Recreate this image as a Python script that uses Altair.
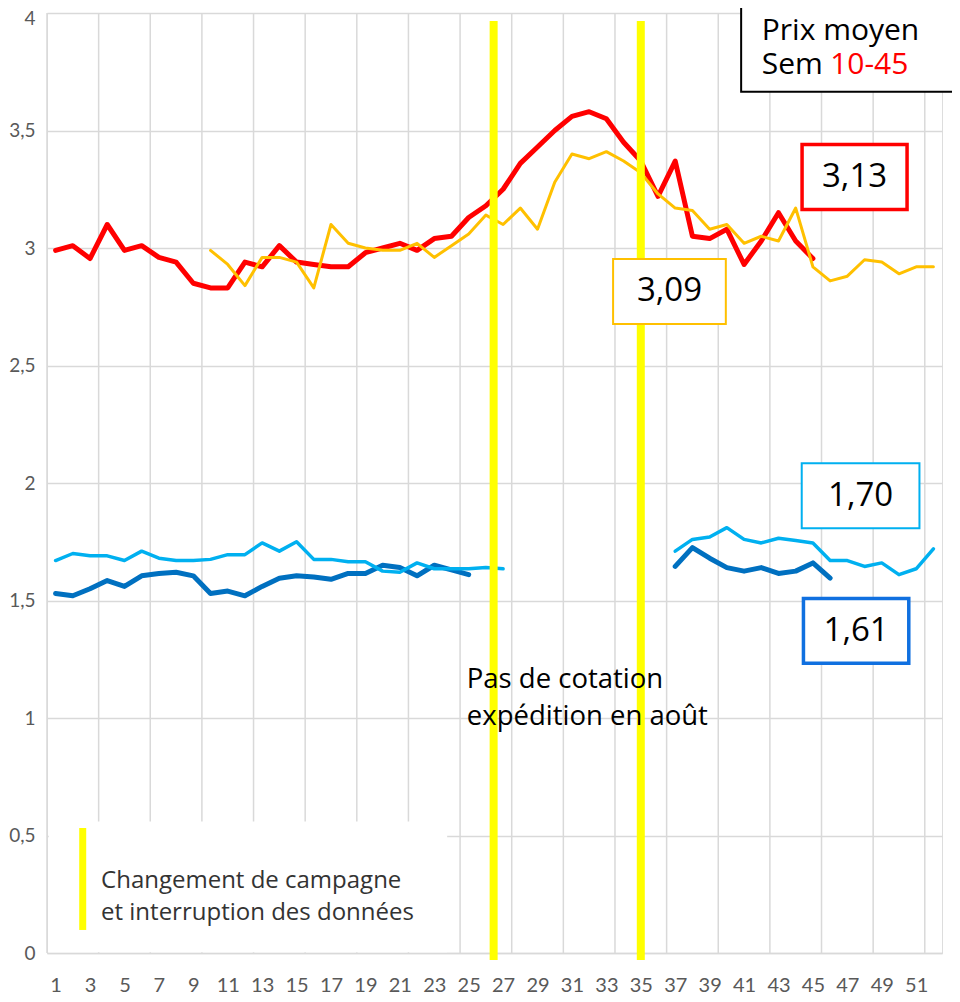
import altair as alt
import pandas as pd

# ---------------- data ----------------
red_weeks = list(range(1, 46))
red_vals = [2.99, 3.01, 2.955, 3.10, 2.99, 3.01, 2.96, 2.94, 2.85, 2.83,
            2.83, 2.94, 2.92, 3.01, 2.94, 2.93, 2.92, 2.92, 2.98, 3.00,
            3.02, 2.99, 3.04, 3.05, 3.13, 3.18, 3.25, 3.36, 3.43, 3.50,
            3.56, 3.58, 3.55, 3.45, 3.37, 3.22, 3.37, 3.05, 3.04, 3.08,
            2.93, 3.03, 3.15, 3.03, 2.955]

orange_weeks = list(range(10, 53))
orange_vals = [2.99, 2.93, 2.84, 2.96, 2.96, 2.94, 2.83, 3.10, 3.02, 3.00,
               2.99, 2.99, 3.02, 2.96, 3.01, 3.06, 3.14, 3.10, 3.17, 3.08,
               3.28, 3.40, 3.38, 3.41, 3.37, 3.32, 3.23, 3.17, 3.16, 3.08,
               3.10, 3.02, 3.05, 3.03, 3.17, 2.92, 2.86, 2.88, 2.95, 2.94,
               2.89, 2.92, 2.92]

lightblue_weeks_a = list(range(1, 28))
lightblue_vals_a = [1.67, 1.70, 1.69, 1.69, 1.67, 1.71, 1.68, 1.67, 1.67, 1.675,
                    1.695, 1.695, 1.745, 1.71, 1.75, 1.675, 1.675, 1.665, 1.665, 1.625,
                    1.62, 1.66, 1.635, 1.635, 1.635, 1.64, 1.635]
lightblue_weeks_b = list(range(37, 53))
lightblue_vals_b = [1.71, 1.76, 1.77, 1.81, 1.76, 1.745, 1.765, 1.755, 1.745, 1.67,
                    1.67, 1.645, 1.66, 1.61, 1.635, 1.72]

darkblue_weeks_a = list(range(1, 26))
darkblue_vals_a = [1.53, 1.52, 1.55, 1.585, 1.56, 1.605, 1.615, 1.62, 1.605, 1.53,
                   1.54, 1.52, 1.56, 1.595, 1.605, 1.60, 1.59, 1.615, 1.615, 1.65,
                   1.64, 1.605, 1.65, 1.63, 1.61]
darkblue_weeks_b = list(range(37, 47))
darkblue_vals_b = [1.645, 1.725, 1.68, 1.64, 1.625, 1.64, 1.615, 1.625, 1.66, 1.595]

x_label_weeks = list(range(1, 53, 2))
y_ticks = [0, 0.5, 1, 1.5, 2, 2.5, 3, 3.5, 4]
grid_weeks = [0.5 + 3 * k for k in range(18)]
campaign_breaks = [26.45, 35.0]

# ---------------- styles ----------------
AXIS_FONT = "Lato"
TEXT_FONT = "Open Sans"
GRID = "#D9D9D9"
RED = "#FF0000"
ORANGE = "#FFC000"
LBLUE = "#00B0F0"
DBLUE = "#0070C0"
YELLOW = "#FFFF00"


def series_df(weeks, vals, seg):
    return pd.DataFrame({"week": weeks, "value": vals, "seg": seg})


red_df = series_df(red_weeks, red_vals, "a")
orange_df = series_df(orange_weeks, orange_vals, "a")
lb_df = pd.concat([series_df(lightblue_weeks_a, lightblue_vals_a, "a"),
                   series_df(lightblue_weeks_b, lightblue_vals_b, "b")])
db_df = pd.concat([series_df(darkblue_weeks_a, darkblue_vals_a, "a"),
                   series_df(darkblue_weeks_b, darkblue_vals_b, "b")])

xs = alt.Scale(domain=[0.5, 52.5], nice=False, zero=False)
ys = alt.Scale(domain=[0, 4], nice=False, zero=True)

x_axis = alt.Axis(values=x_label_weeks, grid=False, ticks=False, title=None,
                  domainColor=GRID, domainWidth=1.5, labelFont=AXIS_FONT,
                  labelFontSize=20, labelColor="#595959", labelPadding=38,
                  labelBaseline="alphabetic",
                  labelFlush=False, labelOverlap=False)
y_axis = alt.Axis(values=y_ticks, grid=True, gridColor=GRID, gridWidth=1.5,
                  ticks=False, domain=False, title=None, labelFont=AXIS_FONT,
                  labelFontSize=19, labelColor="#595959", labelPadding=12,
                  labelOffset={"condition": {"test": "datum.value == 4", "value": 5}, "value": 0},
                  labelExpr="replace(format(datum.value, '.1~f'), '.', ',')")


def X(field):
    return alt.X(field, scale=xs, axis=x_axis)


def Y(field):
    return alt.Y(field, scale=ys, axis=y_axis)


# vertical gridlines every 3 weeks
vgrid = alt.Chart(pd.DataFrame({"week": grid_weeks, "lo": 0.0, "hi": 4.0})).mark_rule(
    color=GRID, strokeWidth=1.5).encode(x=X("week:Q"), y=Y("lo:Q"), y2="hi:Q")

# white legend panel
legend_panel = alt.Chart(pd.DataFrame({"x": [0.6], "x2": [23.75], "y": [0.56], "y2": [0.003]})).mark_rect(
    color="white").encode(x=X("x:Q"), x2="x2:Q", y=Y("y:Q"), y2="y2:Q")


def line_layer(df, color, width):
    return alt.Chart(df).mark_line(color=color, strokeWidth=width, strokeJoin="round",
                                   strokeCap="round").encode(
        x=X("week:Q"), y=Y("value:Q"), detail="seg:N")


red_line = line_layer(red_df, RED, 5)
orange_line = line_layer(orange_df, ORANGE, 3)
db_line = line_layer(db_df, DBLUE, 5)
lb_line = line_layer(lb_df, LBLUE, 3.5)

# campaign change lines
breaks = alt.Chart(pd.DataFrame({"week": campaign_breaks, "top": [3.966, 3.966], "bottom": [-0.03, -0.03]})).mark_rule(
    color=YELLOW, strokeWidth=8).encode(x=X("week:Q"), y=Y("top:Q"), y2="bottom:Q")

legend_line = alt.Chart(pd.DataFrame({"week": [2.575], "top": [0.532], "bottom": [0.098]})).mark_rule(
    color=YELLOW, strokeWidth=7).encode(x=X("week:Q"), y=Y("top:Q"), y2="bottom:Q")

legend_text = alt.Chart(pd.DataFrame({
    "week": [3.64, 3.64], "value": [0.2766, 0.1404],
    "txt": ["Changement de campagne", "et interruption des données"]})).mark_text(
    align="left", baseline="alphabetic", font=TEXT_FONT, fontSize=24, color="#333333").encode(
    x=X("week:Q"), y=Y("value:Q"), text="txt:N")

note_text = alt.Chart(pd.DataFrame({
    "week": [24.89, 24.89], "value": [1.126, 0.970],
    "txt": ["Pas de cotation", "expédition en août"]})).mark_text(
    align="left", baseline="alphabetic", font=TEXT_FONT, fontSize=27.5, color="black").encode(
    x=X("week:Q"), y=Y("value:Q"), text="txt:N")

# top-right title box
title_box = alt.Chart(pd.DataFrame({"x": [40.83], "x2": [56.0], "y": [4.2], "y2": [3.665]})).mark_rect(
    fill="white", stroke="black", strokeWidth=2).encode(x=X("x:Q"), x2="x2:Q", y=Y("y:Q"), y2="y2:Q")

title_text = alt.Chart(pd.DataFrame({
    "week": [42.03, 42.03], "value": [3.885, 3.740],
    "txt": ["Prix moyen", "Sem"]})).mark_text(
    align="left", baseline="alphabetic", font=TEXT_FONT, fontSize=30, color="black").encode(
    x=X("week:Q"), y=Y("value:Q"), text="txt:N")

title_red = alt.Chart(pd.DataFrame({"week": [46.0], "value": [3.740], "txt": ["10-45"]})).mark_text(
    align="left", baseline="alphabetic", font=TEXT_FONT, fontSize=30, color=RED).encode(
    x=X("week:Q"), y=Y("value:Q"), text="txt:N")

# value boxes
box_labels = ["3,13", "3,09", "1,70", "1,61"]
box_colors = [RED, ORANGE, LBLUE, "#1070E0"]
box_widths = [3.5, 2, 2, 3.5]
box_x = [44.37, 33.39, 44.35, 44.45]
box_x2 = [50.47, 39.94, 51.19, 50.57]
box_y = [3.440, 2.953, 2.084, 1.509]
box_y2 = [3.164, 2.677, 1.807, 1.233]

box_layers = []
for lab, col, sw, bx, bx2, by, by2 in zip(box_labels, box_colors, box_widths, box_x, box_x2, box_y, box_y2):
    bdf = pd.DataFrame({"x": [bx], "x2": [bx2], "y": [by], "y2": [by2],
                        "cx": [(bx + bx2) / 2], "cy": [(by + by2) / 2], "txt": [lab]})
    rect = alt.Chart(bdf).mark_rect(fill="white", stroke=col, strokeWidth=sw).encode(
        x=X("x:Q"), x2="x2:Q", y=Y("y:Q"), y2="y2:Q")
    txt = alt.Chart(bdf).mark_text(align="center", baseline="middle", font=TEXT_FONT,
                                   fontSize=33, color="black").encode(
        x=X("cx:Q"), y=Y("cy:Q"), text="txt:N")
    box_layers += [rect, txt]

chart = alt.layer(
    vgrid, legend_panel, red_line, orange_line, db_line, lb_line, breaks,
    legend_line, legend_text, note_text, title_box, title_text, title_red, *box_layers
).properties(
    width=895, height=940,
    autosize=alt.AutoSizeParams(type="none"),
    padding={"left": 39, "top": 5, "right": 10, "bottom": 41},
).configure_view(stroke=None).configure(background="white")

chart.save("out.html", embed_options={"renderer": "svg", "actions": False})
